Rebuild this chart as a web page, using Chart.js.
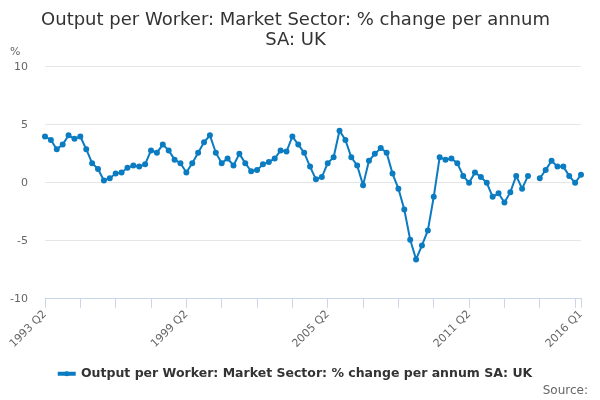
<!DOCTYPE html>
<html>
<head>
<meta charset="utf-8">
<script src="https://cdn.jsdelivr.net/npm/chart.js@4"></script>
<style>
  html, body { margin: 0; padding: 0; background: #fff; }
  #wrap { width: 600px; height: 400px; }
</style>
</head>
<body>
<div id="wrap"><canvas id="opwChart"></canvas></div>
<script>
// quarters 1993 Q2 .. 2016 Q1
const quarters = [];
for (let y = 1993; y <= 2016; y++) {
  for (let q = 1; q <= 4; q++) {
    if (y === 1993 && q < 2) continue;
    if (y === 2016 && q > 1) continue;
    quarters.push(y + " Q" + q);
  }
}

const outputPerWorker = [
  4.0, 3.7, 2.9, 3.3, 4.1, 3.8, 4.0, 2.9, 1.7, 1.2, 0.2, 0.4, 0.8, 0.9, 1.3, 1.5, 1.4, 1.6, 2.8, 2.6, 3.3, 2.8, 2.0, 1.7,
  0.9, 1.7, 2.6, 3.5, 4.1, 2.6, 1.7, 2.1, 1.5, 2.5, 1.7, 1.0, 1.1, 1.6, 1.8, 2.1, 2.8, 2.7, 4.0, 3.3, 2.6, 1.4, 0.3, 0.5,
  1.7, 2.2, 4.5, 3.7, 2.2, 1.5, -0.2, 1.9, 2.5, 3.0, 2.6, 0.8, -0.5, -2.3, -4.9, -6.6, -5.4, -4.1, -1.2, 2.2, 2.0, 2.1, 1.7, 0.6,
  0.0, 0.9, 0.5, 0.0, -1.2, -0.9, -1.7, -0.8, 0.6, -0.5, 0.6, null, 0.4, 1.1, 1.9, 1.4, 1.4, 0.6, 0.0, 0.7,
];

const labelledQuarters = ["1993 Q2", "1999 Q2", "2005 Q2", "2011 Q2", "2016 Q1"];
const yTicks = [-10, -5, 0, 5, 10];

const lineColor = "#0b7cc1";
const FONT = "DejaVu Sans, sans-serif";

// "%" above the y labels, "Source:" credit, and a dot on the legend line
const extras = {
  id: "extras",
  afterDraw(chart) {
    const c = chart.ctx;
    const y = chart.scales.y;
    c.save();
    c.font = "11px " + FONT;
    c.fillStyle = "#666";
    c.textAlign = "left";
    c.textBaseline = "middle";
    c.fillText("%", 10, y.top - 15);
    c.font = "12px " + FONT;
    c.textAlign = "right";
    c.fillText("Source:", 588, 391);
    const hb = chart.legend.legendHitBoxes[0];
    if (hb) {
      c.beginPath();
      c.arc(hb.left + 8, hb.top + hb.height / 2, 2.5, 0, Math.PI * 2);
      c.fillStyle = lineColor;
      c.fill();
    }
    c.restore();
  },
};

const ctx = document.getElementById("opwChart").getContext("2d");
const opwChart = new Chart(ctx, {
  type: "line",
  data: {
    labels: quarters,
    datasets: [
      {
        label: "Output per Worker: Market Sector: % change per annum SA: UK",
        data: outputPerWorker,
        borderColor: lineColor,
        backgroundColor: lineColor,
        borderWidth: 2,
        pointRadius: 2,
        pointHoverRadius: 3,
        spanGaps: false,
        tension: 0,
      },
    ],
  },
  options: {
    responsive: true,
    maintainAspectRatio: false,
    animation: false,
    layout: { padding: { left: 10, right: 19, top: 4, bottom: 10 } },
    scales: {
      x: {
        offset: false,
        border: { color: "#ccd6eb", width: 1 },
        grid: {
          drawOnChartArea: false,
          tickLength: 9,
          color: (c) =>
            c.index % 6 === 0 || c.index === quarters.length - 1 ? "#ccd6eb" : "rgba(0,0,0,0)",
        },
        ticks: {
          autoSkip: false,
          maxRotation: 45,
          minRotation: 45,
          padding: 0,
          color: "#666",
          font: { family: FONT, size: 11 },
          callback: function (value, index) {
            const lab = quarters[index];
            return labelledQuarters.includes(lab) ? lab : "";
          },
        },
        afterFit: (scale) => {
          scale.paddingLeft = 0;
          scale.paddingRight = 0;
        },
      },
      y: {
        min: -10,
        max: 10,
        afterBuildTicks: (scale) => {
          scale.ticks = yTicks.map((v) => ({ value: v }));
        },
        afterFit: (scale) => {
          scale.width = 35;
        },
        border: { display: false },
        grid: { color: "#e6e6e6", drawTicks: false },
        ticks: {
          padding: 17,
          color: "#666",
          font: { family: FONT, size: 11 },
        },
      },
    },
    plugins: {
      title: {
        display: true,
        text: ["Output per Worker: Market Sector: % change per annum", "SA: UK"],
        color: "#333",
        font: { family: FONT, size: 18, weight: "normal", lineHeight: 1.08 },
        padding: { top: 7, bottom: 17 },
      },
      legend: {
        position: "bottom",
        labels: {
          boxWidth: 16,
          boxHeight: 2,
          color: "#333",
          font: { family: FONT, size: 12.5, weight: "bold" },
          padding: 17,
        },
      },
      tooltip: { enabled: false },
    },
  },
  plugins: [extras],
});
</script>
</body>
</html>
